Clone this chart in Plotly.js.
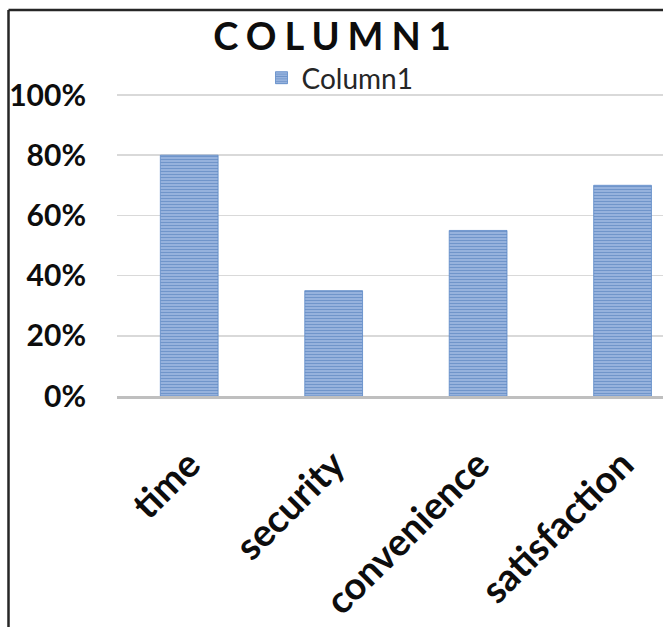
<!DOCTYPE html>
<html>
<head>
<meta charset="utf-8">
<script src="https://cdn.plot.ly/plotly-3.0.1.min.js"></script>
<style>
  html, body { margin: 0; padding: 0; background: #ffffff; overflow: hidden; }
  #chart { width: 663px; height: 627px; }
</style>
</head>
<body>
<div id="chart"></div>
<script>
// ---- data ----
const categories = ["time", "security", "convenience", "satisfaction"];
const values = [0.80, 0.35, 0.55, 0.70];
const seriesName = "Column1";
const chartTitle = "COLUMN1";
const yTickValues = [0, 0.2, 0.4, 0.6, 0.8, 1.0];
const yTickLabels = ["0%", "20%", "40%", "60%", "80%", "100%"];

const trace = {
  type: "bar",
  x: categories,
  y: values,
  name: seriesName,
  showlegend: true,
  marker: {
    color: "#9db8e1",
    line: { color: "#5a88c6", width: 0.8 },
    pattern: {
      shape: "-",
      fillmode: "overlay",
      fgcolor: "#3d6eb2",
      bgcolor: "#a2bce3",
      size: 3,
      solidity: 0.5
    }
  },
  hoverinfo: "x+y"
};

const layout = {
  width: 663,
  height: 627,
  autosize: false,
  paper_bgcolor: "#ffffff",
  plot_bgcolor: "#ffffff",
  margin: { l: 117, r: 0, t: 89, b: 231, pad: 0, autoexpand: false },
  bargap: 0.6,
  title: {
    text: "<b>" + chartTitle + "</b>",
    font: { family: "Lato, 'Open Sans', sans-serif", size: 38, color: "#0d0d0d" },
    x: 336 / 663,
    xanchor: "center",
    xref: "container",
    yref: "container",
    y: 1 - 37 / 627,
    yanchor: "middle",
    automargin: false
  },
  legend: {
    orientation: "h",
    x: (340 - 117) / 546,
    xanchor: "center",
    yref: "container",
    y: 1 - 78 / 627,
    yanchor: "middle",
    font: { family: "Lato, 'Open Sans', sans-serif", size: 28, color: "#262626" },
    itemwidth: 30,
    bgcolor: "rgba(0,0,0,0)"
  },
  xaxis: {
    type: "category",
    range: [-0.5, 3.28],
    showgrid: false,
    zeroline: false,
    showline: true,
    linecolor: "#bfbfbf",
    linewidth: 3,
    ticks: "",
    tickangle: -45,
    ticklabelstandoff: 28,
    automargin: false,
    tickfont: { family: "Lato, 'Open Sans', sans-serif", size: 38, color: "#0d0d0d", weight: "bold" }
  },
  yaxis: {
    range: [0, 307 / 301],
    tickvals: yTickValues,
    ticktext: yTickLabels,
    showgrid: true,
    gridcolor: "#d9d9d9",
    gridwidth: 1.5,
    zeroline: false,
    showline: false,
    ticks: "",
    ticklabelstandoff: 30,
    automargin: false,
    tickfont: { family: "Lato, 'Open Sans', sans-serif", size: 30, color: "#0d0d0d", weight: "bold" }
  },
  shapes: [
    { type: "line", xref: "paper", yref: "paper",
      x0: (8.5 - 117) / 546, x1: (8.5 - 117) / 546,
      y0: -231 / 307 - 0.01, y1: (627 - 10 - 231) / 307,
      line: { color: "#262626", width: 2.5 } },
    { type: "line", xref: "paper", yref: "paper",
      x0: (8.5 - 117) / 546, x1: (665 - 117) / 546,
      y0: (627 - 10 - 231) / 307, y1: (627 - 10 - 231) / 307,
      line: { color: "#262626", width: 2.5 } }
  ]
};

Plotly.newPlot("chart", [trace], layout, { displayModeBar: false, staticPlot: true }).then(function (gd) {
  const t = gd.querySelector(".gtitle");
  if (t) { t.style.letterSpacing = "8px"; }
});
</script>
</body>
</html>
